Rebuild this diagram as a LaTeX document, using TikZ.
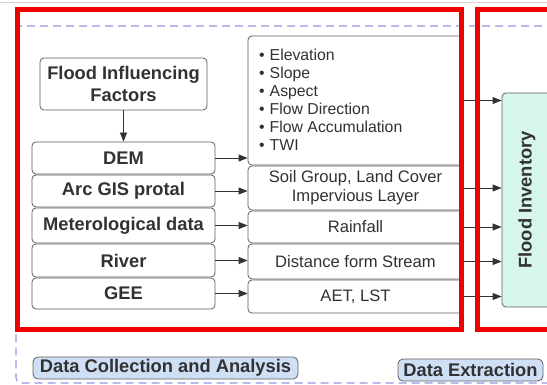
\documentclass[tikz,border=0pt]{standalone}
\usepackage{fontspec}
\setmainfont{Liberation Sans}
\usetikzlibrary{arrows.meta}

\definecolor{framered}{RGB}{240,0,0}
\definecolor{lanedash}{RGB}{150,150,225}
\definecolor{boxline}{RGB}{95,95,95}
\definecolor{ink}{RGB}{50,50,50}
\definecolor{invfill}{RGB}{214,245,236}
\definecolor{tagfill}{RGB}{207,224,246}

\tikzset{
  srcbox/.style={draw=boxline, line width=0.8pt, rounded corners=4pt, fill=white,
    minimum width=183pt, text=ink, inner sep=0pt, align=center,
    font=\fontsize{18.3}{22}\selectfont\bfseries},
  outbox/.style={draw=boxline, line width=0.8pt, rounded corners=4pt, fill=white,
    minimum width=215pt, text=ink, inner sep=0pt, align=center,
    font=\fontsize{16.6}{19}\selectfont},
  flow/.style={draw=ink, line width=0.8pt, -{Triangle[length=9pt,width=7pt]}},
  tag/.style={draw=boxline, line width=0.8pt, rounded corners=5pt, fill=tagfill,
    text=ink, inner sep=0pt, font=\fontsize{18.3}{20}\selectfont\bfseries},
  frame/.style={draw=framered, line width=5pt},
}

\begin{document}
\begin{tikzpicture}[x=1pt, y=-1pt]
\useasboundingbox (0,0) rectangle (547,385);
\clip (0,0) rectangle (547,385);
\fill[white] (0,0) rectangle (547,385);
\draw[black!18, line width=1.2pt] (0,2.5) -- (547,2.5);

% swimlane outline
\draw[lanedash, line width=1.1pt, dash pattern=on 8pt off 5pt, rounded corners=5pt]
  (620,26) -- (16,26) -- (16,383) -- (620,383);

% source boxes
\node[srcbox, minimum width=167pt, minimum height=52pt] (fif) at (123.5,84)
  {Flood Influencing\\Factors};
\node[srcbox, minimum height=32pt] (dem) at (123.5,158) {DEM};
\node[srcbox, minimum height=32pt] (arc) at (123.5,191) {Arc GIS protal};
\node[srcbox, minimum height=35pt] (met) at (123.5,225.5) {Meterological data};
\node[srcbox, minimum height=33pt] (riv) at (123.5,260.5) {River};
\node[srcbox, minimum height=31pt] (gee) at (123.5,293.5) {GEE};

% derived layers
\node[outbox, minimum height=129pt] (bul) at (355.5,100.5) {};
\node[anchor=west, inner sep=0pt, align=left, text=ink,
      font=\fontsize{15.8}{18}\selectfont] (bultext) at (259,100)
  {\textbullet\hspace{5pt}Elevation\\
   \textbullet\hspace{5pt}Slope\\
   \textbullet\hspace{5pt}Aspect\\
   \textbullet\hspace{5pt}Flow Direction\\
   \textbullet\hspace{5pt}Flow Accumulation\\
   \textbullet\hspace{5pt}TWI};
\node[outbox, minimum height=44pt] (soil) at (355.5,188)
  {Soil Group, Land Cover\\Impervious Layer};
\node[outbox, minimum height=32pt] (rain) at (355.5,227) {Rainfall};
\node[outbox, minimum height=35pt] (dist) at (355.5,261.5) {Distance form Stream};
\node[outbox, minimum height=33pt] (aet) at (355.5,296.5) {AET, LST};

% flood inventory
\node[draw=boxline, line width=0.8pt, rounded corners=4pt, fill=invfill,
      minimum width=50pt, minimum height=214pt, inner sep=0pt] (inv) at (527,200) {};
\node[rotate=90, text=ink, inner sep=0pt, font=\fontsize{18.3}{20}\selectfont\bfseries]
  (invtext) at (inv.center) {Flood Inventory};

% connectors
\draw[flow] (fif.south) -- (dem.north);
\foreach \s/\t in {dem/bul, arc/soil, met/rain, riv/dist, gee/aet}
  \draw[flow] (\s.east) -- (\s.east -| \t.west);
\foreach \s in {bul, soil, rain, dist, aet}
  \draw[flow] (\s.east) -- (\s.east -| inv.west);

% highlight frames
\draw[frame] (17,9.5) rectangle (461,329);
\draw[frame] (477.5,9.5) rectangle (600,329);

% lane titles
\node[tag, minimum width=265pt, minimum height=22pt] (dca) at (165.5,368)
  {Data Collection and Analysis};
\node[tag, minimum width=145pt, minimum height=22pt] (dex) at (470.5,370)
  {Data Extraction};
\end{tikzpicture}
\end{document}
